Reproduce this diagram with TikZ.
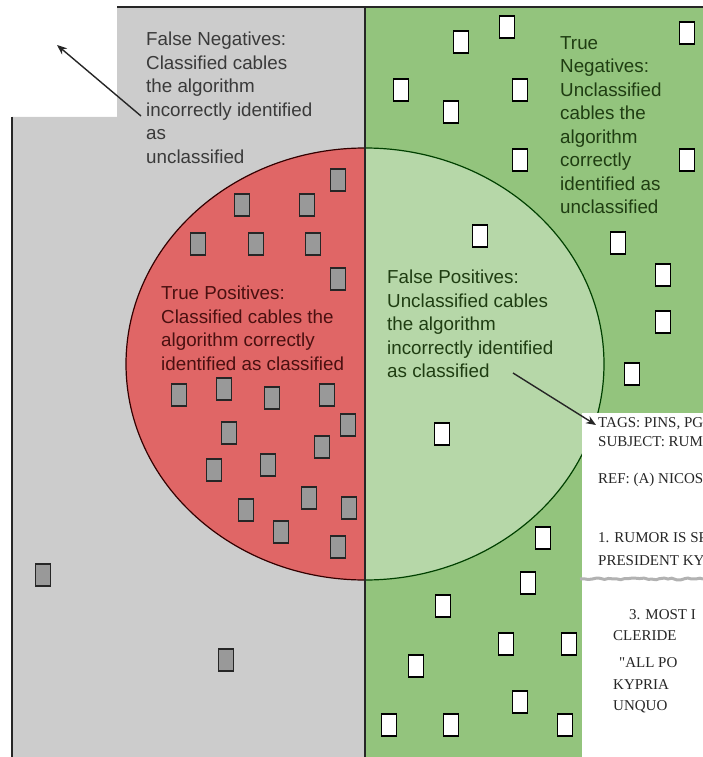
\documentclass[tikz,border=0pt]{standalone}
\usepackage{fontspec}
\setmainfont{Liberation Sans}
\newfontfamily\docfont{Liberation Serif}
\usepackage{tikz}
\usetikzlibrary{arrows.meta}
\usetikzlibrary{decorations.pathmorphing}
\usepackage{xcolor}

\definecolor{fngray}{HTML}{CCCCCC}
\definecolor{tnfill}{HTML}{93C47D}
\definecolor{fpfill}{HTML}{B6D7A8}
\definecolor{tpfill}{HTML}{E06666}
\definecolor{boxgray}{HTML}{999999}
\definecolor{txtgray}{HTML}{3A3A3A}
\definecolor{txtred}{HTML}{4A1010}
\definecolor{txtgreen}{HTML}{1F3D12}

\begin{document}
\begin{tikzpicture}[x=1pt, y=-1pt]
        % ================= styles =================
        \tikzset{
            % cables the system marks classified: grey box
            clsbox/.style={rectangle, draw=black!85, line width=1.3pt, fill=boxgray, minimum width=15pt, minimum height=22pt, inner sep=0pt},
            % unclassified cables: white box
            unclsbox/.style={rectangle, draw=black, line width=1.3pt, fill=white, minimum width=15pt, minimum height=22pt, inner sep=0pt},
            % region labels
            region/.style={anchor=north west, align=left, inner sep=0pt, font=\fontsize{18.8}{23.5}\selectfont},
            % lines of the cable sheet
            sheet/.style={anchor=base west, inner sep=0pt, text=black!85, font=\docfont\fontsize{15}{16}\selectfont},
            % pointer arrows
            pointer/.style={line width=1.4pt, black!85, -{Stealth[length=10pt, width=8pt]}},
            frame/.style={line width=1.2pt, black!85}
        }
        \useasboundingbox (0,0) rectangle (703,757);

        % ================= 1. coordinates =================
        \coordinate (ctr) at (365,364);   % centre of the ellipse
        \coordinate (fnTail) at (141,116);
        \coordinate (fnTip) at (57,45);
        \coordinate (fpTail) at (513,373);
        \coordinate (fpTip) at (596,425);

        % ================= 2. regions =================
        % false negatives: grey, with the notch top left
        \fill[fngray] (12,117) -- (117,117) -- (117,7) -- (365,7) -- (365,757) -- (12,757) -- cycle;
        % true negatives: green
        \fill[tnfill] (365,7) rectangle (703,757);

        % the ellipse, split at the divider
        \begin{scope}
            \clip (0,0) rectangle (365,757);
            \draw[draw=black!80!red, fill=tpfill, line width=1.2pt] (ctr) ellipse [x radius=239, y radius=216];
        \end{scope}
        \begin{scope}
            \clip (365,0) rectangle (703,757);
            \draw[draw=black!75!green, fill=fpfill, line width=1.2pt] (ctr) ellipse [x radius=239, y radius=216];
        \end{scope}

        % outer frame and divider
        \draw[frame] (117,7) -- (703,7);
        \draw[frame] (12,117) -- (12,757);
        \draw[frame] (365,7) -- (365,757);

        % ================= 3. cables =================
        \foreach \x/\y [count=\i] in {338/180, 242/205, 307/205, 198/244, 256/244, 313/244, 338/279,
            179/395, 224/389, 272/398, 327/395, 348/425, 229/433, 322/447, 214/470, 268/465,
            309/498, 349/508, 246/510, 281/532, 338/547, 43/575, 226/660}
            \node[clsbox] (c\i) at (\x,\y) {};

        \foreach \x/\y [count=\i] in {461/42, 507/27, 687/33, 401/90, 520/90, 451/112, 520/160, 687/160,
            480/236, 618/243, 663/275, 663/322, 632/374, 442/434, 543/538, 528/583, 443/606,
            506/644, 569/644, 416/666, 520/702, 451/725, 389/725, 565/725}
            \node[unclsbox] (u\i) at (\x,\y) {};

        % ================= 4. labels =================
        \node[region, text=txtgray] (fn) at (146,32)
            {False Negatives:\\Classified cables\\the algorithm\\incorrectly identified\\as\\unclassified};
        \node[region, text=txtgreen] (tn) at (560,36)
            {True\\Negatives:\\Unclassified\\cables the\\algorithm\\correctly\\identified as\\unclassified};
        \node[region, text=txtred] (tp) at (161,286)
            {True Positives:\\Classified cables the\\algorithm correctly\\identified as classified};
        \node[region, text=txtgreen] (fp) at (387,270)
            {False Positives:\\Unclassified cables\\the algorithm\\incorrectly identified\\as classified};

        % ================= 5. cable sheet =================
        \fill[white] (582,413) rectangle (703,757);
        \pgfmathsetseed{7}
        \draw[black!30, line width=3pt, decorate, decoration={random steps, segment length=4pt, amplitude=1pt}]
            (580,579) -- (703,579);
        \begin{scope}
            \clip (582,413) rectangle (703,757);
            \foreach \x/\y/\t [count=\i] in {598/427/{TAGS: PINS, PG}, 598/446/{SUBJECT: RUMO},
                598/483/{REF: (A) NICOS}, 598/542/{1. RUMOR IS SP}, 598/565/{PRESIDENT KY},
                629/619/{3. MOST I}, 613/640/{CLERIDE}, 619/667/{"ALL PO}, 613/689/{KYPRIA},
                613/710/{UNQUO}}
                \node[sheet] (d\i) at (\x,\y) {\t};
        \end{scope}

        % ================= 6. arrows =================
        \draw[pointer] (fnTail) -- (fnTip);
        \draw[pointer] (fpTail) -- (fpTip);

    \end{tikzpicture}
\end{document}
